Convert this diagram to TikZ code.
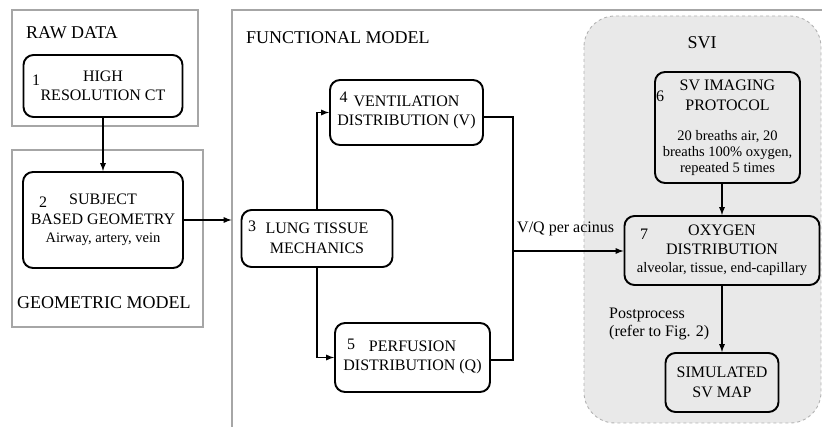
\documentclass[tikz,border=0pt]{standalone}
\usepackage{fontspec}
\setmainfont{Liberation Serif}
\usetikzlibrary{positioning}
\usetikzlibrary{calc}

\newcommand{\subtxt}{\fontsize{14.5}{16.5}\selectfont}

\begin{document}
\begin{tikzpicture}[x=1pt,y=-1pt,
    caixa/.style={draw, rounded corners=10pt, line width=1.9pt, align=center, inner sep=0pt, font=\fontsize{16}{19.5}\selectfont},
    numero/.style={inner sep=0pt, font=\fontsize{16}{19.5}\selectfont},
    titulo/.style={inner sep=0pt, anchor=west, font=\fontsize{18}{21}\selectfont},
    rotulo/.style={inner sep=0pt, font=\fontsize{16}{19.5}\selectfont},
    moldura/.style={draw=gray!70, line width=1.3pt},
    seta/.style={-latex, line width=1.7pt},
    linha/.style={line width=1.7pt}]
            \clip (0,0) rectangle (822,427);
            % Molduras
            \draw[moldura] (12,10) rectangle (198,126);
            \draw[moldura] (12,150) rectangle (203,327);
            \draw[moldura] (232,432) -- (232,10) -- (826,10);
            \draw[dashed, draw=gray!60, fill=gray!17, line width=0.9pt, rounded corners=31pt] (584,16) rectangle (821,423);
            \node[titulo] (rawdata) at (26,33) {RAW DATA};
            \node[titulo] (geometrico) at (17,303) {GEOMETRIC MODEL};
            \node[titulo] (funcional) at (246,38) {FUNCTIONAL MODEL};
            \node[titulo, anchor=center] (svi) at (702,43) {SVI};

            % Caixas
            \node[caixa, minimum width=159pt, minimum height=62pt] (ct) at (103,86) {HIGH\\RESOLUTION CT};
            \node[caixa, minimum width=160pt, minimum height=96pt] (geom) at (103,220) {SUBJECT\\BASED GEOMETRY\\[-1.5pt]{\subtxt Airway, artery, vein}};
            \node[caixa, minimum width=151pt, minimum height=57pt] (tecido) at (317,238.5) {LUNG TISSUE\\MECHANICS};
            \node[caixa, minimum width=153pt, minimum height=65pt] (vent) at (406.5,112.5) {VENTILATION\\DISTRIBUTION (V)};
            \node[caixa, minimum width=155pt, minimum height=69pt] (perf) at (412.5,357.5) {PERFUSION\\DISTRIBUTION (Q)};
            \node[caixa, minimum width=145pt, minimum height=111pt] (protocolo) at (727.5,127.5) {SV IMAGING\\PROTOCOL\\[10.5pt]{\subtxt 20 breaths air, 20}\\[-3.5pt]{\subtxt breaths 100\% oxygen,}\\[-3.5pt]{\subtxt repeated 5 times}};
            \node[caixa, minimum width=195pt, minimum height=69pt] (oxigenio) at (722,250.5) {OXYGEN\\DISTRIBUTION\\[-1.5pt]{\subtxt alveolar, tissue, end-capillary}};
            \node[caixa, minimum width=113pt, minimum height=59pt] (mapa) at (722,382.5) {SIMULATED\\SV MAP};

            % Numeros
            \node[numero] (num1) at (36,80) {1};
            \node[numero] (num2) at (43,202) {2};
            \node[numero] (num3) at (252,226) {3};
            \node[numero] (num4) at (343.5,97) {4};
            \node[numero] (num5) at (351,344) {5};
            \node[numero] (num6) at (660,96) {6};
            \node[numero] (num7) at (644,234) {7};

            % Conexoes
            \coordinate (juncao) at (513,251);
            \draw[seta] (ct.south) -- (geom.north);
            \draw[seta, shorten >=9pt] (geom.east) -- (geom.east -| tecido.west);
            \draw[seta] (tecido.north) |- (vent.west);
            \draw[seta] (tecido.south) |- (perf.west);
            \draw[linha] ([yshift=-4.5pt]vent.east) -| (juncao);
            \draw[linha] ([yshift=-2.5pt]perf.east) -| (juncao);
            \draw[seta] (juncao) -- (juncao -| oxigenio.west);
            \node[rotulo, anchor=west] (vq) at (517,229) {V/Q per acinus};
            \draw[seta] (oxigenio.north |- protocolo.south) -- (oxigenio.north);
            \draw[seta] (oxigenio.south) -- (oxigenio.south |- mapa.north);
            \node[rotulo, anchor=west, align=left] (pos) at (609,324) {Postprocess\\[-1.5pt](refer to Fig. 2)};
\end{tikzpicture}
\end{document}
